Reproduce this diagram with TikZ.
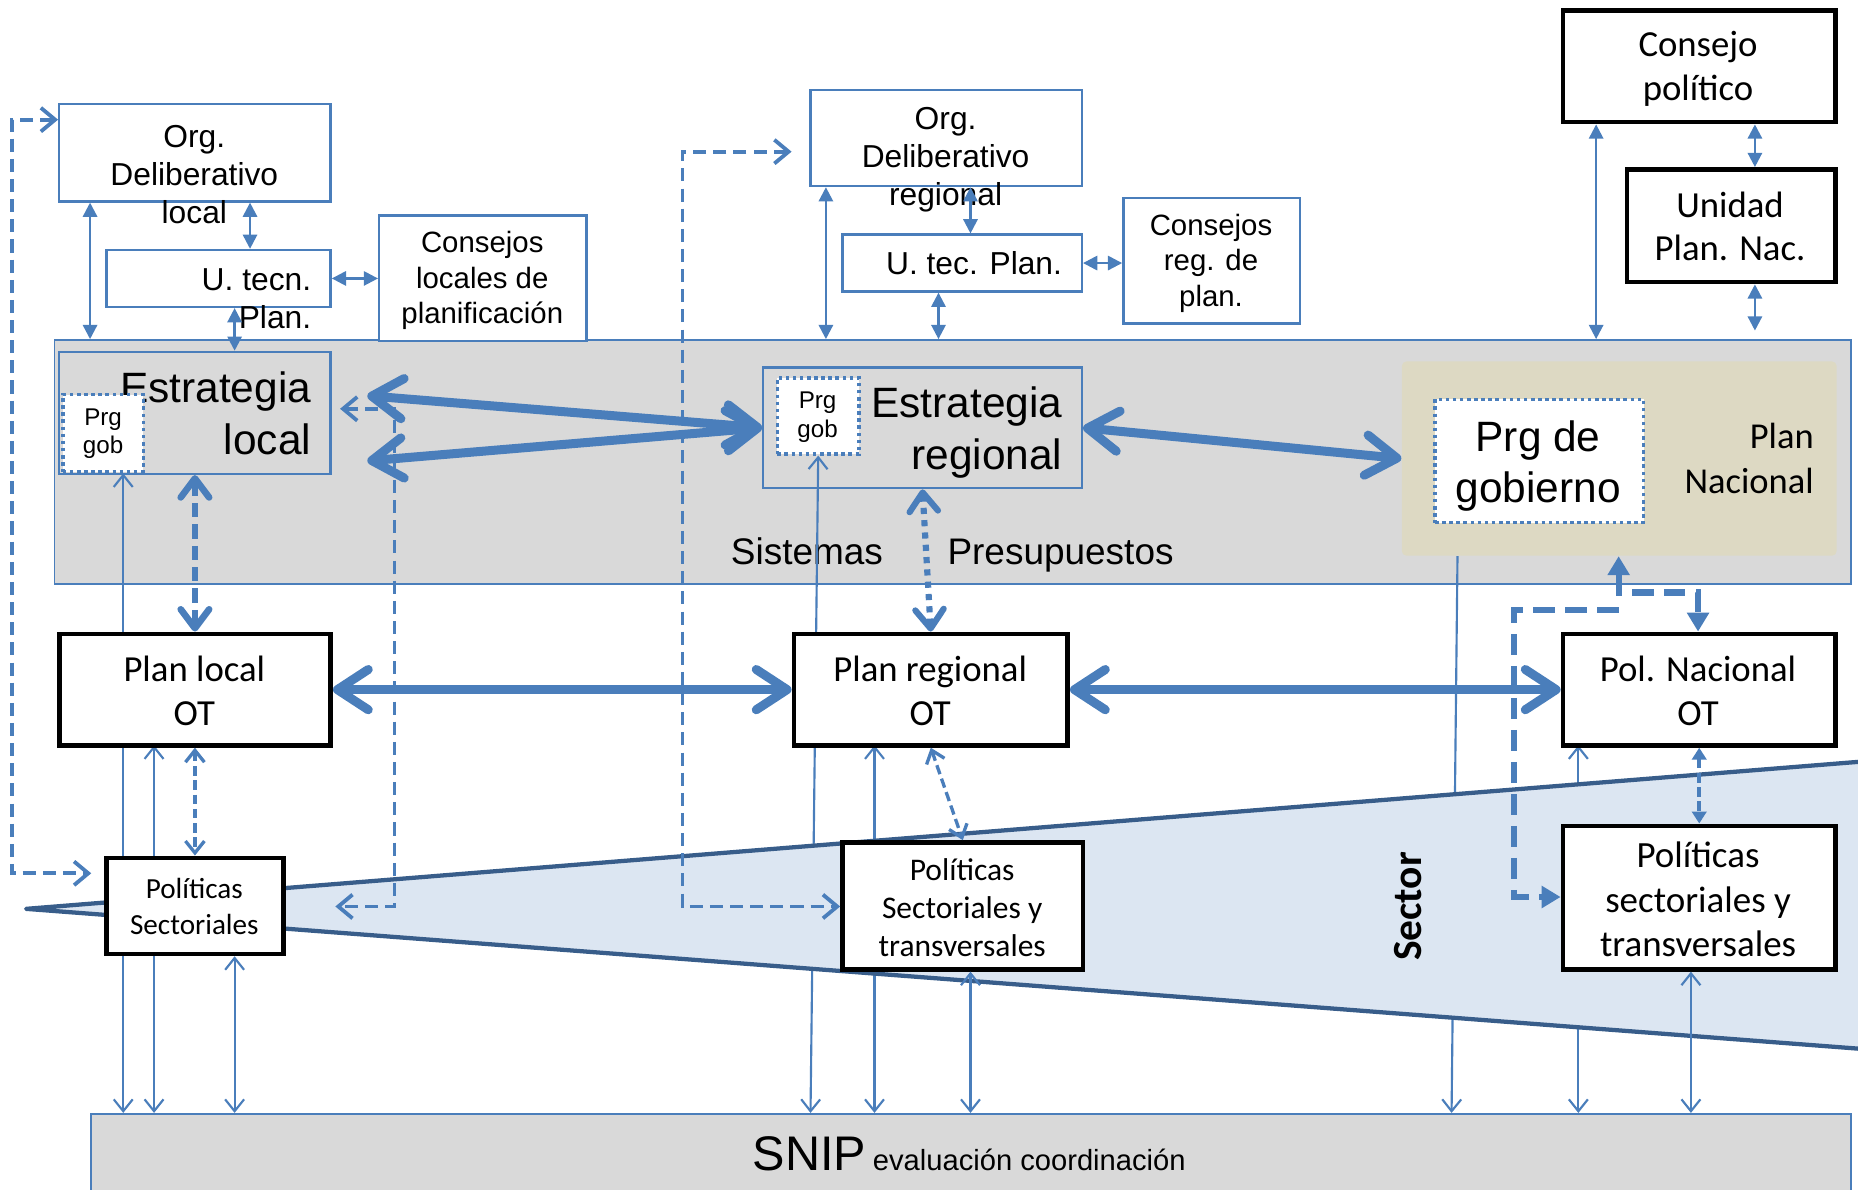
\documentclass[tikz,border=0pt]{standalone}
\usepackage{fontspec}
\setmainfont{Liberation Sans}
\newfontfamily\calfont{Carlito}
\usetikzlibrary{arrows.meta,fit,calc}
\definecolor{lblue}{HTML}{4A7EBB}
\definecolor{wedgeline}{HTML}{385D8A}
\definecolor{wedgefill}{HTML}{DCE6F2}
\definecolor{greyband}{HTML}{D9D9D9}
\definecolor{beige}{HTML}{DDD9C3}
\newcommand\setfs[2]{\fontsize{#1}{#2}\selectfont}
\begin{document}
\begin{tikzpicture}[x=0.5pt,y=-0.5pt,
  bluebox/.style={draw=lblue,line width=1pt,fill=white,inner sep=0pt},
  greyrect/.style={draw=lblue,line width=0.8pt,fill=greyband,inner sep=0pt},
  blackbox/.style={draw=black,line width=2pt,fill=white,inner sep=0pt},
  dotbox/.style={draw=lblue,line width=1.5pt,dash pattern=on 1.5pt off 1.5pt,fill=white,inner sep=0pt},
  txt/.style={inner sep=0pt,align=center,text=black},
  tri/.style={draw=lblue,line width=1pt,>={Triangle[length=6pt,width=6pt]}},
  opn/.style={draw=lblue,line width=0.9pt,>={Straight Barb[length=5pt,width=8pt]}},
  dshs/.style={draw=lblue,line width=1.4pt,dash pattern=on 4pt off 2pt,>={Straight Barb[length=5pt,width=8pt]}},
  dsh/.style={draw=lblue,line width=1.6pt,dash pattern=on 5.5pt off 3pt,>={Straight Barb[length=6pt,width=10pt]}},
  dtri/.style={draw=lblue,line width=1.6pt,dash pattern=on 4pt off 2pt,>={Triangle[length=5pt,width=6pt]}},
  thk/.style={draw=lblue,line width=3.8pt,>={Straight Barb[length=13pt,width=17pt,round]}},
  thkd/.style={draw=lblue,line width=2.8pt,dash pattern=on 6pt off 3pt,>={Straight Barb[length=8pt,width=12pt,round]}},
  thkdot/.style={draw=lblue,line width=2.6pt,dash pattern=on 2.6pt off 2.6pt,>={Straight Barb[length=8pt,width=12pt,round]}},
  thkdt/.style={draw=lblue,line width=2.6pt,dash pattern=on 9pt off 4.5pt,>={Triangle[length=8pt,width=9pt]}}
]
\useasboundingbox (0,0) rectangle (1568,1004);
% column coordinates
\coordinate (cA) at (76,0);   \coordinate (cB) at (211,0);  \coordinate (cC) at (198,0);
\coordinate (cD) at (697,0);  \coordinate (cE) at (819,0);  \coordinate (cF) at (792,0);
\coordinate (cG) at (1347,0); \coordinate (cH) at (1481,0);
\coordinate (c104) at (104,0); \coordinate (c130) at (130,0); \coordinate (c198) at (198,0);
\coordinate (c684) at (684,0); \coordinate (c738) at (738,0); \coordinate (c819) at (819,0);
\coordinate (c1230) at (1230,0); \coordinate (c1225) at (1225,0);
\coordinate (c1332) at (1332,0); \coordinate (c1427) at (1427,0); \coordinate (c1366) at (1366,0);

% bands
\node[greyrect, fit={(46,287)(1562,493)}] (band) {};
\node[greyrect, fit={(77,940)(1562,1012)}] (snip) {};
\node[fill=beige, rounded corners=2pt, inner sep=0pt, fit={(1183,305)(1550,469)}] (pnac) {};

% strategy boxes
\node[greyrect, line width=1pt, fit={(50,297)(279,400)}] (estL) {};
\node[txt, anchor=east, align=right, font=\setfs{17.9}{22}] (estLt) at (263,349) {Estrategia\\local};
\node[dotbox, fit={(53,333)(121,398)}] (pgL) {};
\node[txt, font=\setfs{10.2}{12}] (pgLt) at (87,366) {Prg\\gob};

\node[greyrect, line width=1pt, fit={(644,310)(913,412)}] (estR) {};
\node[txt, anchor=east, align=right, font=\setfs{17.9}{22}] (estRt) at (897,365) {Estrategia\\regional};
\node[dotbox, fit={(656,319)(725,383)}] (pgR) {};
\node[txt, font=\setfs{10.2}{12}] (pgRt) at (690,352) {Prg\\gob};

\node[dotbox, fit={(1211,337)(1387,441)}] (pgN) {};
\node[txt, font=\setfs{17.9}{21.5}] (pgNt) at (1298,393) {Prg de\\gobierno};
\node[txt, anchor=east, align=right, font={\calfont\setfs{15.4}{19}}] (pnacT) at (1531,387) {Plan\\Nacional};

\node[txt, anchor=base, font=\setfs{15.6}{18}] (sist) at (681,476) {Sistemas};
\node[txt, anchor=base, font=\setfs{15.6}{18}] (pres) at (895,476) {Presupuestos};
\node[txt, anchor=base west] (snipT) at (635,988) {{\setfs{20.5}{24}SNIP} {\setfs{12.3}{15}evaluación coordinación}};

% top boxes
\node[bluebox, fit={(50,88)(279,170)}] (orgL) {};
\node[txt, font=\setfs{13.4}{16}] (orgLt) at (164,147) {Org.\\Deliberativo\\local};
\node[bluebox, fit={(90,211)(279,259)}] (utL) {};
\node[txt, anchor=east, align=right, font=\setfs{13.4}{16}] (utLt) at (263,252) {U. tecn.\\Plan.};
\node[bluebox, fit={(320,182)(495,288)}] (conL) {};
\node[txt, font=\setfs{12.4}{15}] (conLt) at (407,237) {Consejos\\locales de\\planificación};

\node[bluebox, fit={(684,76)(913,157)}] (orgR) {};
\node[txt, font=\setfs{13.4}{16}] (orgRt) at (798,135) {Org.\\Deliberativo\\regional};
\node[bluebox, fit={(711,198)(913,246)}] (utR) {};
\node[txt, font=\setfs{13.4}{16}] (utRt) at (822,222) {U. tec. Plan.};
\node[bluebox, fit={(948,167)(1097,273)}] (conR) {};
\node[txt, font=\setfs{12.4}{15}] (conRt) at (1022,222) {Consejos\\reg. de\\plan.};

\node[blackbox, fit={(1319,9)(1549,103)}] (cpol) {};
\node[txt, font={\calfont\setfs{15.5}{18.5}}] (cpolt) at (1433,58) {Consejo\\político};
\node[blackbox, fit={(1373,143)(1549,238)}] (upn) {};
\node[txt, font={\calfont\setfs{15.5}{18.5}}] (upnt) at (1460,191) {Unidad\\Plan. Nac.};
\coordinate (hEnd) at (1481,279);

% top arrows
\draw[tri,<->] (orgL.south -| cA) -- (band.north -| cA);
\draw[tri,<->] (orgL.south -| cB) -- (utL.north -| cB);
\draw[tri,<->] (utL.south -| cC) -- (estL.north -| cC);
\draw[tri,<->] (utL.east) -- (conL.west);
\draw[tri,<->] (orgR.south -| cD) -- (band.north -| cD);
\draw[tri,<->] (orgR.south -| cE) -- (utR.north -| cE);
\draw[tri,<->] (utR.south -| cF) -- (band.north -| cF);
\draw[tri,<->] (utR.east) -- (utR.east -| conR.west);
\draw[tri,<->] (cpol.south -| cG) -- (band.north -| cG);
\draw[tri,<->] (cpol.south -| cH) -- (upn.north -| cH);
\draw[tri,<->] (upn.south -| cH) -- (hEnd);

% long lines hidden by wedge (start points are the bottom edges of the OT boxes drawn later)
\coordinate (plLs130) at (130,629);
\coordinate (plRs738) at (738,629);
\coordinate (plNs1332) at (1332,629);
\draw[opn,<->] (pgL.south -| c104) -- (snip.north -| c104);
\draw[opn,<->] (plLs130) -- (snip.north -| c130);
\draw[opn,<->] (pgR.south) -- (snip.north -| c684);
\draw[opn,<->] (plRs738) -- (snip.north -| c738);
\draw[opn,->] (pnac.south -| c1230) -- (snip.north -| c1225);
\draw[opn,<->] (plNs1332) -- (snip.north -| c1332);

% wedge
\fill[wedgefill] (22,767) -- (1600,640.4) -- (1600,887.4) -- cycle;
\draw[wedgeline, line width=1.8pt, line join=round, line cap=round] (1600,640.4) -- (22,767) -- (1600,887.4);
\node[txt, rotate=90, font={\calfont\bfseries\setfs{17.5}{21}}] (sector) at (1188,765) {Sector};

% black boxes
\node[blackbox, fit={(50,535)(279,629)}] (plL) {};
\node[txt, font={\calfont\setfs{15.5}{18.5}}] (plLt) at (164,583) {Plan local\\OT};
\node[blackbox, fit={(670,535)(901,629)}] (plR) {};
\node[txt, font={\calfont\setfs{15.5}{18.5}}] (plRt) at (785,583) {Plan regional\\OT};
\node[blackbox, fit={(1319,535)(1549,629)}] (plN) {};
\node[txt, font={\calfont\setfs{15.5}{18.5}}] (plNt) at (1433,583) {Pol. Nacional\\OT};
\node[blackbox, fit={(90,724)(239,805)}] (poL) {};
\node[txt, font={\calfont\setfs{12.3}{15}}] (poLt) at (164,765) {Políticas\\Sectoriales};
\node[blackbox, fit={(711,711)(914,818)}] (poR) {};
\node[txt, font={\calfont\setfs{13.3}{16}}] (poRt) at (812,766) {Políticas\\Sectoriales y\\transversales};
\node[blackbox, fit={(1319,697)(1549,818)}] (poN) {};
\node[txt, font={\calfont\setfs{15.6}{18.75}}] (poNt) at (1433,759) {Políticas\\sectoriales y\\transversales};

% lower arrows
\draw[opn,<->] (poL.south -| c198) -- (snip.north -| c198);
\draw[dshs,<->] (plL.south) -- (poL.north);
\draw[dshs,<->] (plR.south) -- (poR.north);
\draw[opn,<->] (poR.south -| c819) -- (snip.north -| c819);
\draw[opn,<->] (poN.south -| c1427) -- (snip.north -| c1427);
\draw[dtri,<->] (plN.south) -- (poN.north);

% band arrows
\coordinate (eL1) at (310,334);
\coordinate (eL2) at (310,389);
\draw[thk,<->] (eL1) -- (estR.west);
\draw[thk,<->] (eL2) -- (estR.west);
\draw[thk,<->] (estR.east) -- (pnac.west);
\draw[thkd,<->] (estL.south) -- (plL.north);
\draw[thkdot,<->] (estR.south) -- (plR.north);

% plan arrows
\draw[thk,<->] (plL.east) -- (plR.west);
\draw[thk,<->] (plR.east) -- (plN.west);

% dashed thin paths
\coordinate (p1a) at (10,101); \coordinate (p1b) at (10,737); \coordinate (p1c) at (77,737);
\draw[dsh,<->] (orgL.west |- p1a) -- (p1a) -- (p1b) -- (p1c);
\coordinate (p2a) at (287,345); \coordinate (p2b) at (333,345); \coordinate (p2c) at (333,765); \coordinate (p2d) at (283,765);
\draw[dsh,<->] (p2a) -- (p2b) -- (p2c) -- (p2d);
\coordinate (p3a) at (668,128); \coordinate (p3b) at (576,128); \coordinate (p3c) at (576,765);
\draw[dsh,<->] (p3a) -- (p3b) -- (p3c) -- (poR.west |- p3c);

% national thick dashed
\coordinate (qa) at (1366,500); \coordinate (qb) at (1433,500);
\draw[thkdt,<->] (pnac.south -| c1366) -- (qa) -- (qb) -- (plN.north -| qb);
\coordinate (qc) at (1366,515); \coordinate (qd) at (1278,515); \coordinate (qe) at (1278,757);
\draw[thkdt,->] (qc) -- (qd) -- (qe) -- (poN.west |- qe);
\end{tikzpicture}
\end{document}
